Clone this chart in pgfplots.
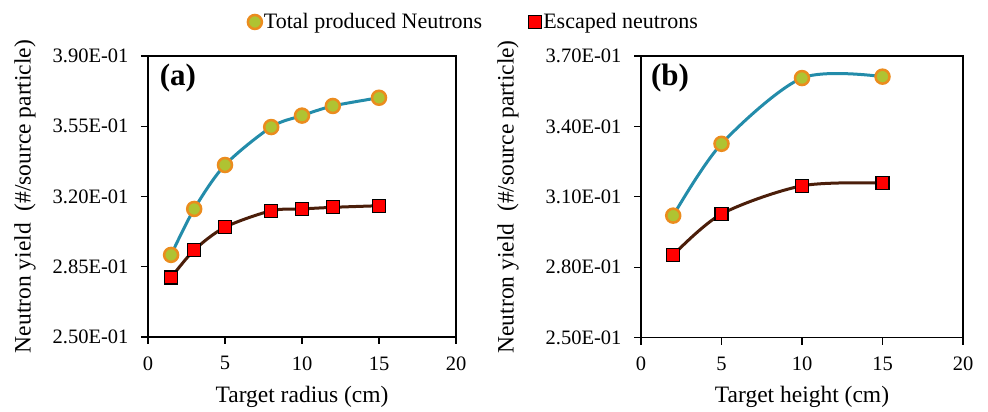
\documentclass[border=0pt]{standalone}
\usepackage{fontspec}
\setmainfont{Liberation Serif}
\usepackage{pgfplots}
\pgfplotsset{compat=1.18}
\definecolor{teal1}{RGB}{35,140,170}
\definecolor{ofill}{RGB}{175,195,50}
\definecolor{oedge}{RGB}{235,140,30}
\definecolor{brn}{RGB}{75,30,10}
\pgfplotsset{
 myax/.style={scale only axis, axis line style={line width=1.2pt}, tick align=outside,
   xtick pos=bottom, ytick pos=left, major tick length=7pt, tick style={line width=1.2pt, black},
   xmin=0, xmax=20, xtick={0,5,10,15,20}, xticklabels={0,5,10,15,20},
   tick label style={font=\fontsize{20.5}{24}\selectfont},
   yticklabel style={xshift=-9pt},
   xticklabel style={yshift=-9pt},
   label style={font=\fontsize{23.5}{27}\selectfont},
   ylabel={Neutron yield\ \ (\#/source particle)}},
 tot/.style={color=teal1, line width=3pt, smooth, mark=*, mark size=7pt,
   mark options={fill=ofill, draw=oedge, line width=2.5pt}},
 esc/.style={color=brn, line width=3pt, smooth, mark=square*, mark size=6.5pt,
   mark options={fill=red, draw=black, line width=1.2pt}},
}
\begin{document}
\begin{tikzpicture}
\useasboundingbox (0,0) rectangle (988pt,412pt);
\begin{axis}[myax, at={(148pt,75pt)}, anchor=south west, width=308pt, height=281pt,
  ymin=0.25, ymax=0.39, ytick={0.25,0.285,0.32,0.355,0.39},
  yticklabels={2.50E-01,2.85E-01,3.20E-01,3.55E-01,3.90E-01},
  xlabel={Target radius (cm)},
  ylabel style={at={(axis description cs:-0.399,0.5)}, anchor=center},
  xlabel style={at={(axis description cs:0.5,-0.2135)}, anchor=center},
  legend style={at={(1.058,1.121)}, anchor=center, draw=none, fill=none, legend columns=2,
    font=\fontsize{22}{25}\selectfont, /tikz/every even column/.append style={column sep=44pt}},
  legend cell align=left]
\addplot[tot, forget plot] coordinates {(1.5,0.2909) (3,0.3138) (5,0.3357) (8,0.3546) (10,0.3603) (12,0.3651) (15,0.3692)};
\addplot[esc, forget plot] coordinates {(1.5,0.2796) (3,0.2933) (5,0.3047) (8,0.3129) (10,0.3138) (12,0.3146) (15,0.3154)};
\addlegendimage{only marks, mark=*, mark size=7pt, mark options={fill=ofill, draw=oedge, line width=2.5pt}}
\addlegendentry{Total produced Neutrons}
\addlegendimage{only marks, mark=square*, mark size=6.5pt, mark options={fill=red, draw=black, line width=1.2pt}}
\addlegendentry{Escaped neutrons}
\node[font=\bfseries\fontsize{31}{34}\selectfont] at (axis description cs:0.097,0.92) {(a)};
\end{axis}
\begin{axis}[myax, at={(641pt,74.3pt)}, anchor=south west, width=322pt, height=281.7pt,
  ymin=0.25, ymax=0.37, ytick={0.25,0.28,0.31,0.34,0.37},
  yticklabels={2.50E-01,2.80E-01,3.10E-01,3.40E-01,3.70E-01},
  xlabel={Target height (cm)},
  ylabel style={at={(axis description cs:-0.413,0.5)}, anchor=center},
  xlabel style={at={(axis description cs:0.5,-0.21)}, anchor=center}]
\addplot[tot] coordinates {(2,0.302) (5,0.3326) (10,0.3606) (15,0.3612)};
\addplot[esc] coordinates {(2,0.2852) (5,0.3027) (10,0.3147) (15,0.3159)};
\node[font=\bfseries\fontsize{31}{34}\selectfont] at (axis description cs:0.09,0.92) {(b)};
\end{axis}
\end{tikzpicture}
\end{document}
